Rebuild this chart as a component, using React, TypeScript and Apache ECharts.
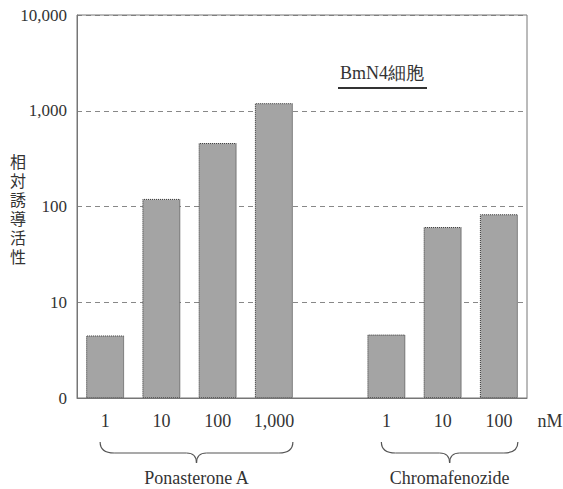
import React, { useEffect, useRef } from "react";
import * as echarts from "echarts";

const categories = ["1", "10", "100", "1,000", "", "1", "10", "100"];
const activity: (number | null)[] = [4.5, 120, 460, 1200, null, 4.6, 61, 83];
const groupNames = ["Ponasterone A", "Chromafenozide"];
const groupFrom = [0, 5];
const groupTo = [3, 7];
const yAxisTitle = "相対誘導活性";
const cellTitle = "BmN4細胞";
const unitLabel = "nM";

const SERIF = "'Liberation Serif', 'DejaVu Serif', serif";
const CJK_TITLE = "'Liberation Serif', 'Noto Sans CJK JP', sans-serif";
const TEXT = "#333";

export default function App() {
  const ref = useRef<HTMLDivElement>(null);
  useEffect(() => {
    if (!ref.current) return;
    const chart = echarts.init(ref.current, null, { renderer: "svg" });
    chart.setOption({
      animation: false,
      grid: {
        left: 77,
        right: 36,
        top: 15,
        bottom: 91,
        show: false,
      },
      xAxis: {
        type: "category",
        data: categories,
        axisLine: { show: true, lineStyle: { color: "#777" } },
        axisTick: { show: false },
        axisLabel: {
          color: TEXT,
          fontFamily: SERIF,
          fontSize: 18,
          margin: 14,
          interval: 0,
        },
        splitLine: { show: false },
      },
      yAxis: {
        type: "log",
        logBase: 10,
        min: 1,
        max: 10000,
        axisLine: { show: true, lineStyle: { color: "#777" } },
        axisTick: { show: false },
        axisLabel: {
          color: TEXT,
          fontFamily: SERIF,
          fontSize: 17,
          margin: 10,
          formatter: (v: number) =>
            Math.abs(v - 1) < 1e-9 ? "0" : Math.round(v).toLocaleString("en-US"),
        },
        splitLine: {
          show: true,
          lineStyle: { color: "#888", type: [5, 4], width: 1 },
        },
      },
      series: [
        {
          type: "bar",
          data: activity,
          barWidth: 38,
          itemStyle: {
            color: "#a4a4a4",
            borderColor: "#333",
            borderWidth: 1,
            borderType: "dotted",
          },
          z: 3,
        },
      ],
    });

    const px = (i: number) =>
      chart.convertToPixel({ gridIndex: 0 }, [i, 1])[0] as number;
    const gyBottom = chart.convertToPixel({ gridIndex: 0 }, [0, 1])[1] as number;
    const gyTop = chart.convertToPixel({ gridIndex: 0 }, [0, 10000])[1] as number;
    const gridLeft = 77;
    const gridRight = 563 - 36;

    const graphics: any[] = [];
    const stroke = { stroke: "#555", lineWidth: 1.2, fill: "none" };
    const top = 442;
    const mid = 453;
    const bot = 463;
    const r = 14;
    const rc = 10;
    for (let g = 0; g < groupNames.length; g++) {
      const x0 = px(groupFrom[g]) - 5;
      const x1 = px(groupTo[g]) + 19;
      const xc = (x0 + x1) / 2;
      graphics.push(
        { type: "bezierCurve", shape: { x1: x0, y1: top, x2: x0 + r, y2: mid, cpx1: x0, cpy1: mid }, style: stroke },
        { type: "line", shape: { x1: x0 + r, y1: mid, x2: xc - rc, y2: mid }, style: stroke },
        { type: "bezierCurve", shape: { x1: xc - rc, y1: mid, x2: xc, y2: bot, cpx1: xc, cpy1: mid }, style: stroke },
        { type: "bezierCurve", shape: { x1: xc, y1: bot, x2: xc + rc, y2: mid, cpx1: xc, cpy1: mid }, style: stroke },
        { type: "line", shape: { x1: xc + rc, y1: mid, x2: x1 - r, y2: mid }, style: stroke },
        { type: "bezierCurve", shape: { x1: x1 - r, y1: mid, x2: x1, y2: top, cpx1: x1, cpy1: mid }, style: stroke },
        {
          type: "text",
          x: xc,
          y: 478,
          style: {
            text: groupNames[g],
            fontFamily: SERIF,
            fontSize: 18,
            fill: TEXT,
            align: "center",
            verticalAlign: "middle",
          },
        }
      );
    }
    graphics.push({
      type: "rect",
      z: 10,
      shape: { x: gridLeft, y: gyTop, width: gridRight - gridLeft, height: gyBottom - gyTop },
      style: { stroke: "#777", lineWidth: 1, fill: "none" },
      silent: true,
    });
    const chars = yAxisTitle.split("");
    chars.forEach((c, i) => {
      graphics.push({
        type: "text",
        x: 18,
        y: 162 + i * 19,
        style: {
          text: c,
          fontFamily: CJK_TITLE,
          fontSize: 16,
          lineHeight: 17,
          fill: TEXT,
          align: "center",
          verticalAlign: "middle",
        },
      });
    });
    graphics.push(
      {
        type: "text",
        x: 550,
        y: 421,
        style: { text: unitLabel, fontFamily: SERIF, fontSize: 18, fill: TEXT, align: "center", verticalAlign: "middle" },
      },
      {
        type: "text",
        x: 382,
        y: 73,
        style: { text: cellTitle, fontFamily: SERIF, fontSize: 18, fill: TEXT, align: "center", verticalAlign: "middle" },
      },
      {
        type: "line",
        shape: { x1: 338, y1: 88, x2: 427, y2: 88 },
        style: { stroke: "#333", lineWidth: 2 },
      }
    );
    chart.setOption({ graphic: graphics });
    return () => chart.dispose();
  }, []);
  return (
    <div
      ref={ref}
      style={{ position: "fixed", left: 0, top: 0, width: 563, height: 489, background: "#fff" }}
    />
  );
}
